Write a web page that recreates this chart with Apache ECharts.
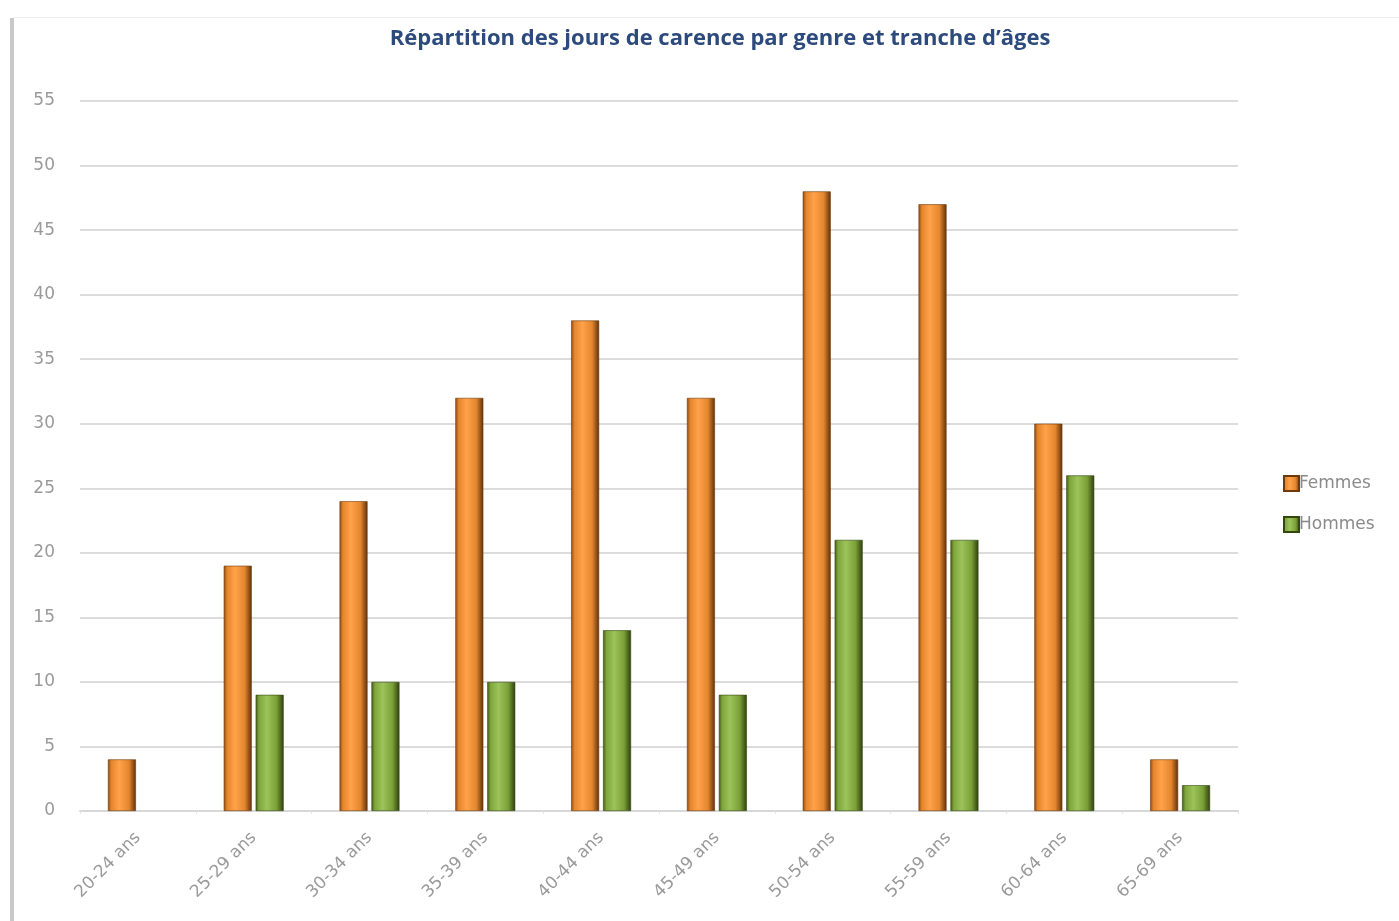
<!DOCTYPE html>
<html><head><meta charset="utf-8">
<script src="https://cdn.jsdelivr.net/npm/echarts@6/dist/echarts.min.js"></script>
<style>html,body{margin:0;padding:0;background:#fff}#c{width:1399px;height:921px}</style>
</head><body><div id="c"></div>
<script>
var categories = ['20-24 ans','25-29 ans','30-34 ans','35-39 ans','40-44 ans','45-49 ans','50-54 ans','55-59 ans','60-64 ans','65-69 ans'];
var femmes = [4, 19, 24, 32, 38, 32, 48, 47, 30, 4];
var hommes = [null, 9, 10, 10, 14, 9, 21, 21, 26, 2];
var yTicks = {min: 0, max: 55, interval: 5};

function grad(stops){
  return new echarts.graphic.LinearGradient(0,0,1,0, stops.map(function(s){return {offset:s[0], color:s[1]};}));
}
var orange = grad([[0,'#8a4a14'],[0.12,'#e5852c'],[0.4,'#ffa24a'],[0.75,'#e3862d'],[1,'#5e300a']]);
var green = grad([[0,'#435a15'],[0.12,'#7fa53b'],[0.4,'#9cc45a'],[0.75,'#7a9f37'],[1,'#2e3f0d']]);

var chart = echarts.init(document.getElementById('c'));
chart.setOption({
  backgroundColor: '#ffffff',
  animation: false,
  title: {
    text: 'Répartition des jours de carence par genre et tranche d\u2019âges',
    left: 715, top: 23, textAlign: 'center',
    textStyle: {color: '#2d4a7c', fontSize: 22, fontWeight: 'bold', fontFamily: 'Open Sans'}
  },
  legend: {
    orient: 'vertical', left: 1278, top: 470, itemGap: 24,
    itemWidth: 15, itemHeight: 15, icon: 'rect',
    textStyle: {color: '#8a8a8a', fontSize: 17, fontFamily: 'DejaVu Sans', padding: [0,0,0,-5]},
    data: ['Femmes','Hommes']
  },
  grid: {left: 80, right: 161, top: 101, bottom: 110},
  xAxis: {
    type: 'category', data: categories,
    axisLine: {lineStyle: {color: '#d8d8d8', width: 2}},
    axisTick: {show: true, length: 3, lineStyle: {color: '#e2e2e2'}},
    axisLabel: {rotate: 45, color: '#9a9a9a', fontSize: 17, fontFamily: 'DejaVu Sans', margin: 24}
  },
  yAxis: {
    type: 'value', min: yTicks.min, max: yTicks.max, interval: yTicks.interval,
    axisLine: {show: false}, axisTick: {show: false},
    axisLabel: {color: '#9a9a9a', fontSize: 17, fontFamily: 'DejaVu Sans', margin: 25},
    splitLine: {lineStyle: {color: '#dcdcdc', width: 2}}
  },
  series: [
    {name: 'Femmes', type: 'bar', data: femmes, barWidth: 28, barGap: '14%',
     itemStyle: {color: orange, borderColor: '#6e3a0c', borderWidth: 0.6}},
    {name: 'Hommes', type: 'bar', data: hommes, barWidth: 28,
     itemStyle: {color: green, borderColor: '#34470f', borderWidth: 0.6}}
  ],
  graphic: [
    {type: 'rect', shape: {x: 10, y: 18, width: 4, height: 903}, style: {fill: '#c8c8c8'}},
    {type: 'rect', shape: {x: 14, y: 17, width: 1385, height: 1}, style: {fill: '#eeeeee'}}
  ]
});
</script></body></html>
